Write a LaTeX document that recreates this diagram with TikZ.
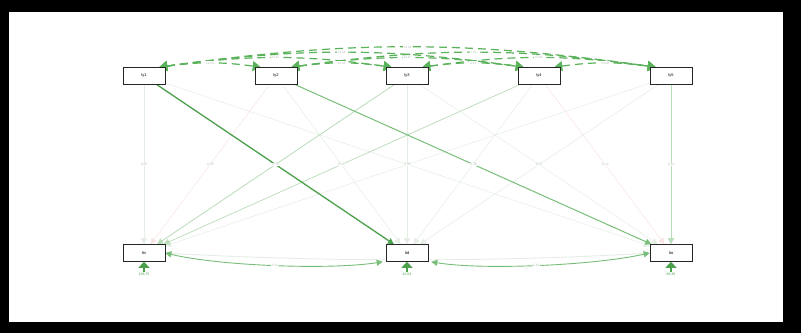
\documentclass[tikz,border=0pt]{standalone}
\usepackage{fontspec}
\setmainfont{Liberation Sans}
\usetikzlibrary{arrows.meta}
\pgfdeclarelayer{bg}
\pgfdeclarelayer{edges}
\pgfsetlayers{bg,edges,main}
\definecolor{gA}{RGB}{75,160,75}
\definecolor{gB}{RGB}{120,190,120}
\definecolor{gC}{RGB}{185,220,185}
\definecolor{gD}{RGB}{228,238,228}
\definecolor{gT}{RGB}{90,178,90}
\definecolor{pk}{RGB}{250,228,228}
\definecolor{lab}{RGB}{180,192,180}
\begin{document}
\begin{tikzpicture}[x=1pt,y=-1pt,
  var/.style={draw=black!85,line width=0.6pt,fill=white,minimum width=42pt,minimum height=17pt,inner sep=0pt,font=\fontsize{4}{4}\selectfont},
  pathe/.style={-{Triangle[length=6pt,width=6pt]}},
  cova/.style={{Triangle[length=8pt,width=10pt]}-{Triangle[length=8pt,width=10pt]},dash pattern=on 8pt off 5pt,line width=1.2pt,draw=gT},
  covb/.style={{Triangle[length=6pt,width=6pt]}-{Triangle[length=6pt,width=6pt]},line width=0.9pt},
  resid/.style={-{Triangle[length=6pt,width=11pt]},line width=1.2pt,draw=gA},
  elab/.style={font=\fontsize{3.2}{3.2}\selectfont,text=lab,fill=white,inner sep=0.6pt},
  rlab/.style={font=\fontsize{3.5}{3.5}\selectfont,text=gA,inner sep=0.5pt}]
\begin{pgfonlayer}{bg}
\fill[black] (0,0) rectangle (801,333);
\fill[white] (9,12) rectangle (783,322);
\end{pgfonlayer}
\useasboundingbox (0,0) rectangle (801,333);

% nodes
\node[var] (ty1) at (144,76) {ty1};
\node[var] (ty2) at (276,76) {ty2};
\node[var] (ty3) at (407,76) {ty3};
\node[var] (ty4) at (539,76) {ty4};
\node[var] (ty5) at (671,76) {ty5};
\node[var] (ttv) at (144,253) {ttv};
\node[var] (ttd) at (407,253) {ttd};
\node[var] (tto) at (671,253) {tto};

\begin{pgfonlayer}{edges}
% regressions
\draw[pathe,draw=gD,line width=0.5pt] (ty1) -- node[elab]{0.02} (ttv);
\draw[pathe,draw=gD,line width=0.5pt] (ty2) -- node[elab,pos=0.5]{0.11} (ttd);
\draw[pathe,draw=gD,line width=0.5pt] (ty1) -- node[elab]{0.09} (tto);
\draw[pathe,draw=pk,line width=0.5pt] (ty2) -- node[elab]{-0.05} (ttv);
\draw[pathe,draw=gD,line width=0.5pt] (ty3) -- node[elab]{0.04} (ttd);
\draw[pathe,draw=gD,line width=0.5pt] (ty3) -- node[elab]{0.07} (tto);
\draw[pathe,draw=gD,line width=0.5pt] (ty4) -- node[elab]{0.06} (ttd);
\draw[pathe,draw=pk,line width=0.5pt] (ty4) -- node[elab]{-0.12} (tto);
\draw[pathe,draw=gD,line width=0.5pt] (ty5) -- node[elab]{0.08} (ttv);
\draw[pathe,draw=gD,line width=0.5pt] (ty5) -- node[elab]{0.03} (ttd);
\draw[pathe,draw=gC,line width=0.8pt] (ty3) -- node[elab]{0.21} (ttv);
\draw[pathe,draw=gC,line width=0.7pt] (ty4) -- node[elab]{0.18} (ttv);
\draw[pathe,draw=gC,line width=0.8pt] (ty5) -- node[elab]{0.24} (tto);
\draw[pathe,draw=gB,line width=1.0pt] (ty2) -- node[elab]{0.38} (tto);
\draw[pathe,draw=gA,line width=1.3pt] (ty1) -- node[elab]{0.56} (ttd);

% covariances among exogenous variables
\draw[cova] ([xshift=-6pt]ty1.north east) to[bend left=8] node[elab]{12.14} ([xshift=6pt]ty5.north west);
\draw[cova] ([xshift=-6pt]ty1.north east) to[bend left=8] node[elab]{14.18} ([xshift=6pt]ty4.north west);
\draw[cova] ([xshift=-6pt]ty1.north east) to[bend left=8] node[elab]{22.15} ([xshift=6pt]ty3.north west);
\draw[cova] ([xshift=-6pt]ty1.north east) to[bend left=8] node[elab]{12.14} ([xshift=6pt]ty2.north west);
\draw[cova] ([xshift=-6pt]ty2.north east) to[bend left=8] node[elab]{7.22} ([xshift=6pt]ty5.north west);
\draw[cova] ([xshift=-6pt]ty2.north east) to[bend left=8] node[elab]{15.67} ([xshift=6pt]ty4.north west);
\draw[cova] ([xshift=-6pt]ty2.north east) to[bend left=8] node[elab]{10.18} ([xshift=6pt]ty3.north west);
\draw[cova] ([xshift=-6pt]ty3.north east) to[bend left=8] node[elab]{15.05} ([xshift=6pt]ty5.north west);
\draw[cova] ([xshift=-6pt]ty3.north east) to[bend left=8] node[elab]{9.12} ([xshift=6pt]ty4.north west);
\draw[cova] ([xshift=-6pt]ty4.north east) to[bend left=8] node[elab]{10.90} ([xshift=6pt]ty5.north west);

% residual covariances
\draw[covb,draw=gD] (ttv.east) .. controls (320,262) and (500,262) .. node[elab]{0.42} (tto.west);
\draw[covb,draw=gB] (ttv.east) .. controls (220,266) and (330,270) .. node[elab]{3.21} ([xshift=-3pt]ttd.south west);
\draw[covb,draw=gB] ([xshift=3pt]ttd.south east) .. controls (480,270) and (590,266) .. node[elab]{5.63} (tto.west);

% residual variances
\coordinate (rv) at (144,272);
\coordinate (rd) at (407,272);
\coordinate (ro) at (671,272);
\draw[resid] (rv) -- (ttv.south);
\draw[resid] (rd) -- (ttd.south);
\draw[resid] (ro) -- (tto.south);
\end{pgfonlayer}
\node[rlab] at (144,274.5) {138.75};
\node[rlab] at (407,274.5) {42.54};
\node[rlab] at (671,274.5) {88.30};
\end{tikzpicture}
\end{document}
